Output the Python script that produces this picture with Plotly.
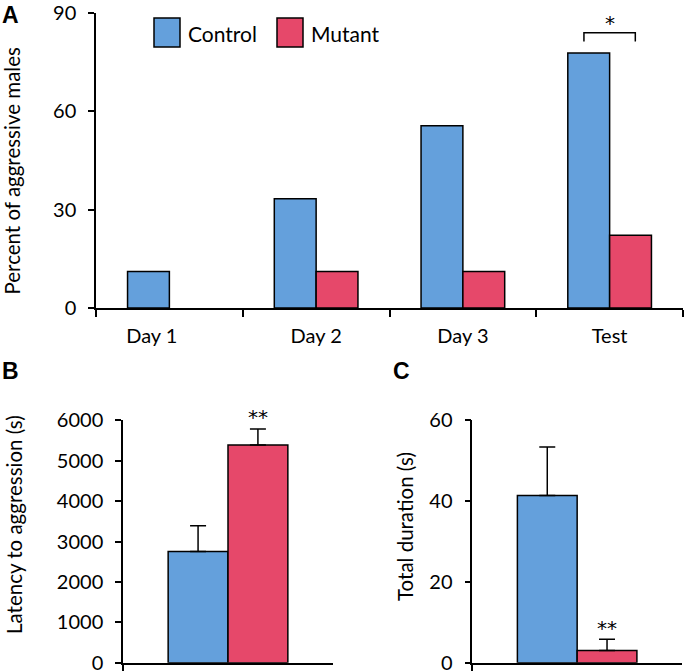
import plotly.graph_objects as go

# ---- data ----
days = ["Day 1", "Day 2", "Day 3", "Test"]
control_pct = [11.1, 33.3, 55.6, 77.8]
mutant_pct = [0, 11.1, 11.1, 22.2]

groups = ["Control", "Mutant"]
latency_mean = [2750, 5390]
latency_sem = [640, 395]
duration_mean = [41.4, 3.0]
duration_sem = [12.0, 2.8]

A_ticks = [0, 30, 60, 90]
B_ticks = [0, 1000, 2000, 3000, 4000, 5000, 6000]
C_ticks = [0, 20, 40, 60]

BLUE = "#64A0DC"
RED = "#E6486A"
FONT = "Lato"
STARFONT = "DejaVu Sans"
W, H = 685, 672

fig = go.Figure()

def outline(vals):
    return dict(color="black", width=[0 if v == 0 else 1.5 for v in vals])

xpos = list(range(len(days)))
line = dict(color="black", width=1.5)
fig.add_trace(go.Bar(x=xpos, y=control_pct, name="Control", hovertext=days,
                     marker=dict(color=BLUE, line=outline(control_pct)),
                     xaxis="x", yaxis="y", showlegend=False))
fig.add_trace(go.Bar(x=xpos, y=mutant_pct, name="Mutant", hovertext=days,
                     marker=dict(color=RED, line=outline(mutant_pct)),
                     xaxis="x", yaxis="y", showlegend=False))

err = dict(type="data", symmetric=False, arrayminus=[0], color="black", thickness=1.5, width=8)
fig.add_trace(go.Bar(x=[""], y=[latency_mean[0]], name="Control", marker=dict(color=BLUE, line=line),
                     error_y=dict(err, array=[latency_sem[0]]), xaxis="x2", yaxis="y2", showlegend=False))
fig.add_trace(go.Bar(x=[""], y=[latency_mean[1]], name="Mutant", marker=dict(color=RED, line=line),
                     error_y=dict(err, array=[latency_sem[1]]), xaxis="x2", yaxis="y2", showlegend=False))
fig.add_trace(go.Bar(x=[""], y=[duration_mean[0]], name="Control", marker=dict(color=BLUE, line=line),
                     error_y=dict(err, array=[duration_sem[0]]), xaxis="x3", yaxis="y3", showlegend=False))
fig.add_trace(go.Bar(x=[""], y=[duration_mean[1]], name="Mutant", marker=dict(color=RED, line=line),
                     error_y=dict(err, array=[duration_sem[1]]), xaxis="x3", yaxis="y3", showlegend=False))

def px_x(p):
    return p / W

def px_y(p):
    return 1 - p / H

tickfont = dict(family=FONT, size=20, color="black")
titlefont = dict(family=FONT, size=20.5, color="black")

xcommon = dict(type="category", showline=True, linecolor="black", linewidth=1.5, ticks="outside",
               ticklen=7, tickcolor="black", tickwidth=1.5, tickson="boundaries", showgrid=False,
               zeroline=False, tickfont=tickfont, fixedrange=True, automargin=False)
ycommon = dict(showline=True, linecolor="black", linewidth=1.5, ticks="outside", ticklen=6,
               tickcolor="black", tickwidth=1.5, showgrid=False, zeroline=False, tickfont=tickfont,
               ticklabelstandoff=8, automargin=False, ticklabeloverflow="allow", fixedrange=True)

# label of the first category sits a little left of its group centre in the reference
label_pos = [p - 0.12 if p == 0 else p for p in xpos]
boundaries = [p - 0.5 for p in xpos] + [xpos[-1] + 0.5]

fig.update_layout(
    width=W, height=H, margin=dict(l=0, r=0, t=0, b=0, autoexpand=False),
    plot_bgcolor="white", paper_bgcolor="white",
    barmode="group", bargap=0.43, bargroupgap=0,
    font=dict(family=FONT, color="black"),
    xaxis=dict(domain=[px_x(96), px_x(683)], anchor="y", range=[-0.5, 3.5],
               showline=True, linecolor="black", linewidth=1.5, showgrid=False, zeroline=False,
               tickmode="array", tickvals=label_pos, ticktext=days, ticks="", ticklabelstandoff=9,
               tickfont=tickfont, automargin=False, fixedrange=True,
               minor=dict(tickmode="array", tickvals=boundaries, ticks="outside", ticklen=7,
                          tickcolor="black", tickwidth=1.5, showgrid=False)),
    yaxis=dict(ycommon, domain=[px_y(308), px_y(13)], anchor="x", range=[0, 90], tickvals=A_ticks),
    xaxis2=dict(xcommon, domain=[px_x(123), px_x(333)], anchor="y2", range=[-0.5, 0.5], showticklabels=False),
    yaxis2=dict(ycommon, domain=[px_y(662.7), px_y(420.3)], anchor="x2", range=[0, 6000], tickvals=B_ticks),
    xaxis3=dict(xcommon, domain=[px_x(472.3), px_x(682)], anchor="y3", range=[-0.5, 0.5], showticklabels=False),
    yaxis3=dict(ycommon, domain=[px_y(662.7), px_y(420.3)], anchor="x3", range=[0, 60], tickvals=C_ticks),
)

# bracket + significance marks
fig.add_shape(type="path", xref="x", yref="y",
              path="M 2.825,81.3 L 2.825,84 L 3.175,84 L 3.175,81.3",
              line=dict(color="black", width=1.5))
starfont = dict(family=STARFONT, size=20, color="black")
annotations = [
    dict(x=3, y=82.6, xref="x", yref="y", text="*", showarrow=False, yanchor="bottom", font=starfont),
    dict(x=0.143, y=latency_mean[1] + latency_sem[1] - 40, xref="x2", yref="y2", text="**",
         showarrow=False, yanchor="bottom", font=starfont),
    dict(x=0.143, y=duration_mean[1] + duration_sem[1] - 0.6, xref="x3", yref="y3", text="**",
         showarrow=False, yanchor="bottom", font=starfont),
    # y-axis titles
    dict(x=px_x(11.5), y=px_y(171), xref="paper", yref="paper", text="Percent of aggressive males",
         textangle=-90, showarrow=False, xanchor="center", yanchor="middle", font=titlefont),
    dict(x=px_x(13.5), y=px_y(524.5), xref="paper", yref="paper", text="Latency to aggression (s)",
         textangle=-90, showarrow=False, xanchor="center", yanchor="middle", font=titlefont),
    dict(x=px_x(405), y=px_y(527), xref="paper", yref="paper", text="Total duration (s)",
         textangle=-90, showarrow=False, xanchor="center", yanchor="middle", font=titlefont),
    # panel letters
    dict(x=px_x(0), y=px_y(0), xref="paper", yref="paper", text="<b>A</b>", showarrow=False,
         xanchor="left", yanchor="top", font=dict(family="Liberation Sans", size=23, color="black")),
    dict(x=px_x(0), y=px_y(356), xref="paper", yref="paper", text="<b>B</b>", showarrow=False,
         xanchor="left", yanchor="top", font=dict(family="Liberation Sans", size=23, color="black")),
    dict(x=px_x(391), y=px_y(356), xref="paper", yref="paper", text="<b>C</b>", showarrow=False,
         xanchor="left", yanchor="top", font=dict(family="Liberation Sans", size=23, color="black")),
]

# manual legend
for name, col, x0 in [("Control", BLUE, 154), ("Mutant", RED, 277)]:
    fig.add_shape(type="rect", xref="paper", yref="paper",
                  x0=px_x(x0), x1=px_x(x0 + 26), y0=px_y(47), y1=px_y(18),
                  fillcolor=col, line=dict(color="black", width=1.5))
    annotations.append(dict(x=px_x(x0 + 32), y=px_y(33), xref="paper", yref="paper", text=name,
                            showarrow=False, xanchor="left", yanchor="middle",
                            font=dict(family=FONT, size=21, color="black")))

fig.update_layout(annotations=annotations)
fig.write_html("out.html", config={"displayModeBar": False},
               post_script="document.body.style.margin='0';document.body.style.overflow='hidden';")
